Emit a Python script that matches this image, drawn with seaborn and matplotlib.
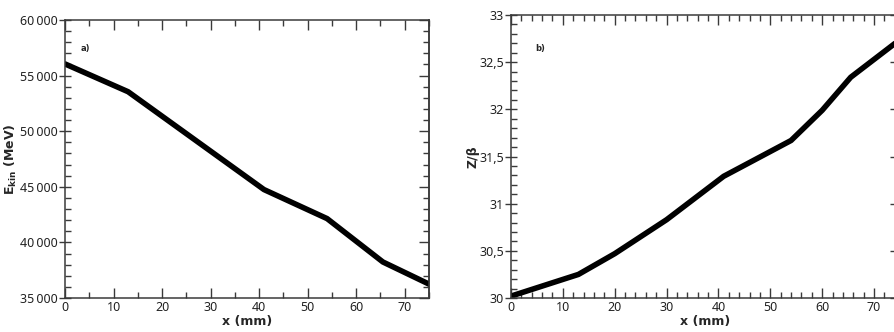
import numpy as np
import pandas as pd
import matplotlib
matplotlib.use("Agg")
import matplotlib.pyplot as plt
from matplotlib.ticker import MultipleLocator, FuncFormatter
import seaborn as sns

# data
x_a = [0, 13, 41, 54, 65.5, 75]
ekin = [56050, 53550, 44750, 42140, 38240, 36250]

x_b = [0, 13, 20, 30, 41, 54, 60, 65.5, 75]
z_beta = [30.02, 30.25, 30.47, 30.83, 31.29, 31.67, 31.99, 32.34, 32.74]

sns.set_style("ticks")
plt.rcParams['font.family'] = ['Noto Sans', 'DejaVu Sans']
plt.rcParams['mathtext.fontset'] = 'dejavusans'
BOLD = ['DejaVu Sans']

fig = plt.figure(figsize=(8.94, 3.32), dpi=100)
ax1 = fig.add_axes([65/894, 1-298/332, (429-65)/894, (298-20)/332])
ax2 = fig.add_axes([511/894, 1-298/332, (900-511)/894, (298-15)/332])

dfa = pd.DataFrame({"x": x_a, "y": ekin})
dfb = pd.DataFrame({"x": x_b, "y": z_beta})
sns.lineplot(data=dfa, x="x", y="y", ax=ax1, color="black", linewidth=4.0)
sns.lineplot(data=dfb, x="x", y="y", ax=ax2, color="black", linewidth=4.0)

spine_c = "#3a3a3a"
for ax in (ax1, ax2):
    ax.set_xlim(0, 75)
    for s in ax.spines.values():
        s.set_visible(True)
        s.set_color(spine_c)
        s.set_linewidth(1.1)
    ax.tick_params(which='both', top=True, right=False, color=spine_c, width=1.0,
                   labelsize=9, labelcolor="#222222")
    ax.tick_params(which='major', direction='in', length=7, pad=2)
    ax.tick_params(which='minor', direction='in', length=4)
    ax.tick_params(axis='y', which='major', direction='inout', length=8, pad=1)
    ax.xaxis.set_major_locator(MultipleLocator(10))

ax1.set_ylim(35000, 60000)
ax1.xaxis.set_minor_locator(MultipleLocator(5))
ax1.yaxis.set_major_locator(MultipleLocator(5000))
ax1.yaxis.set_minor_locator(MultipleLocator(1000))
ax1.yaxis.set_major_formatter(FuncFormatter(lambda v, p: f"{int(v)//1000}\u2009{int(v)%1000:03d}"))

ax2.set_ylim(30, 33)
ax2.xaxis.set_minor_locator(MultipleLocator(2))
ax2.yaxis.set_major_locator(MultipleLocator(0.5))
ax2.yaxis.set_minor_locator(MultipleLocator(0.1))
def fmt_b(v, p):
    if abs(v - round(v)) < 1e-9:
        return f"{int(round(v))}"
    return f"{v:.1f}".replace(".", ",")
ax2.yaxis.set_major_formatter(FuncFormatter(fmt_b))

# right-side inward ticks without labels
for ax, maj, mnr in ((ax1, 5000, 1000), (ax2, 0.5, 0.1)):
    sec = ax.secondary_yaxis('right')
    sec.yaxis.set_major_locator(MultipleLocator(maj))
    sec.yaxis.set_minor_locator(MultipleLocator(mnr))
    sec.tick_params(which='both', direction='in', color=spine_c, width=1.0, labelright=False)
    sec.tick_params(which='major', length=7)
    sec.tick_params(which='minor', length=4)
    sec.spines['right'].set_color(spine_c)
    sec.spines['right'].set_linewidth(1.1)

ax1.set_xlabel("x (mm)", fontsize=9, fontweight='bold', family=BOLD, labelpad=1)
ax2.set_xlabel("x (mm)", fontsize=9, fontweight='bold', family=BOLD, labelpad=1)
ax1.set_ylabel(r"$\mathbf{E_{kin}}$ (MeV)", fontsize=9, fontweight='bold', family=BOLD, labelpad=1)
ax2.set_ylabel("Z/β", fontsize=9, fontweight='bold', family=BOLD, labelpad=0)

ax1.text(4.1, 57480, "a)", fontsize=6, fontweight='bold', family=BOLD, ha='center', va='center')
ax2.text(5.6, 32.65, "b)", fontsize=6, fontweight='bold', family=BOLD, ha='center', va='center')

fig.savefig("out.png", dpi=100)
